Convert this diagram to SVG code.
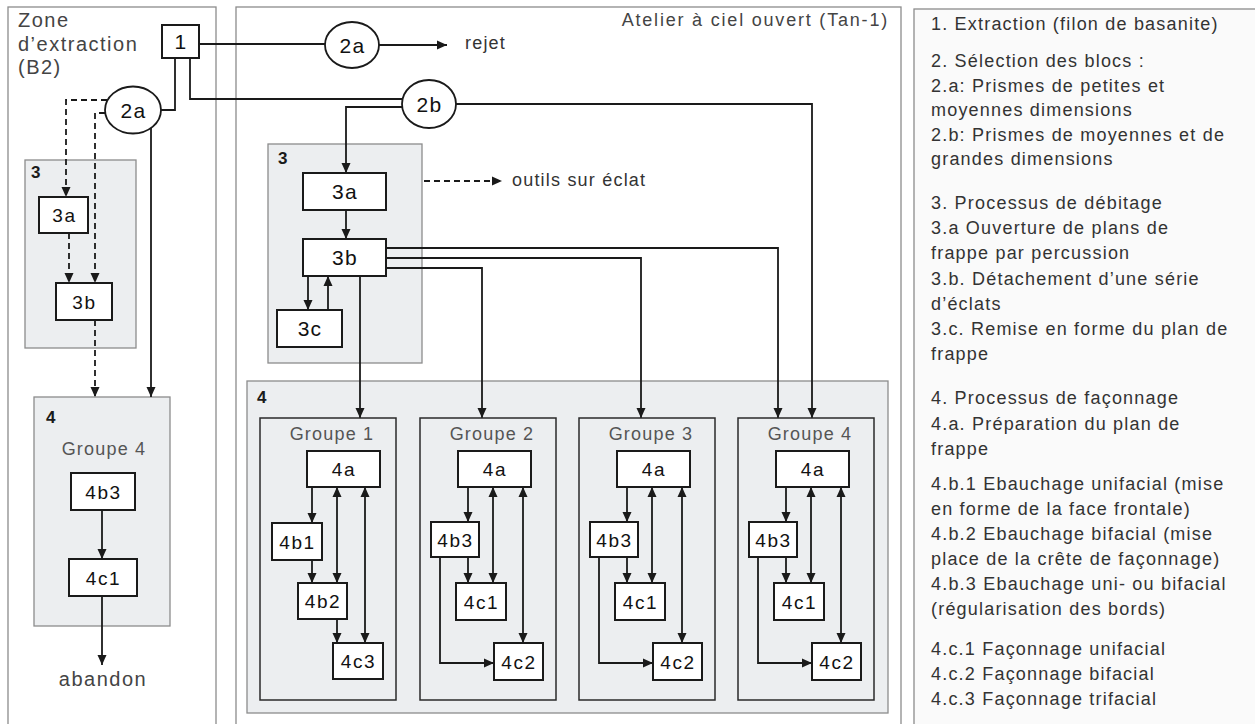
<svg xmlns="http://www.w3.org/2000/svg" width="1255" height="724" viewBox="0 0 1255 724">
<defs>
<style>
text{font-family:"Liberation Sans",Arial,sans-serif;}
.panel{fill:#ffffff;stroke:#8c8c8c;stroke-width:1.3}
.leg{fill:#fafafa;stroke:#8c8c8c;stroke-width:1.3}
.gbox{fill:#eceef0;stroke:#8c8c8c;stroke-width:1.3}
.grp{fill:none;stroke:#2a2a2a;stroke-width:1.5}
.nd{fill:#ffffff;stroke:#1a1a1a;stroke-width:2}
.el{fill:#ffffff;stroke:#1a1a1a;stroke-width:1.8}
.c{fill:none;stroke:#1a1a1a;stroke-width:1.8}
.d{stroke-dasharray:6 4}
.a{marker-end:url(#ah)}
.b{marker-start:url(#ah);marker-end:url(#ah)}
.lg{font-size:18px;letter-spacing:1.2px;fill:#333}
.lbl{font-size:20px;letter-spacing:1.5px;fill:#444}
.ttl{font-size:18px;letter-spacing:1.8px;fill:#444}
.gt{font-size:18px;letter-spacing:1.2px;fill:#555;text-anchor:middle}
.n{font-size:19px;letter-spacing:1.6px;fill:#111;text-anchor:middle}
.nb{font-size:21px;letter-spacing:1.2px;fill:#111;text-anchor:middle}
.num{font-size:17px;font-weight:bold;fill:#1a1a1a}
</style>
<marker id="ah" markerUnits="userSpaceOnUse" markerWidth="11" markerHeight="10" refX="10" refY="5" orient="auto-start-reverse" viewBox="0 0 11 10"><path d="M0,0.5 L10,5 L0,9.5 z" fill="#1a1a1a"/></marker>
</defs>

<g id="panels">
<rect class="panel" x="8" y="7" width="208" height="740"/>
<rect class="panel" x="236" y="7" width="665" height="740"/>
<rect class="leg" x="914" y="9" width="360" height="740"/>
<text class="lbl" x="18" y="27">Zone</text>
<text class="lbl" x="18" y="50.5">d’extraction</text>
<text class="lbl" x="18" y="74">(B2)</text>
<text class="ttl" x="889" y="26" text-anchor="end">Atelier à ciel ouvert (Tan-1)</text>
</g>

<g id="legend">
<text class="lg" x="931" y="30">1. Extraction (filon de basanite)</text>
<text class="lg" x="931" y="67">2. Sélection des blocs :</text>
<text class="lg" x="931" y="91.5">2.a: Prismes de petites et</text>
<text class="lg" x="931" y="116">moyennes dimensions</text>
<text class="lg" x="931" y="140.5">2.b: Prismes de moyennes et de</text>
<text class="lg" x="931" y="165">grandes dimensions</text>
<text class="lg" x="931" y="208.5">3. Processus de débitage</text>
<text class="lg" x="931" y="234">3.a Ouverture de plans de</text>
<text class="lg" x="931" y="259">frappe par percussion</text>
<text class="lg" x="931" y="284.5">3.b. Détachement d’une série</text>
<text class="lg" x="931" y="310">d’éclats</text>
<text class="lg" x="931" y="335">3.c. Remise en forme du plan de</text>
<text class="lg" x="931" y="360">frappe</text>
<text class="lg" x="931" y="404">4. Processus de façonnage</text>
<text class="lg" x="931" y="429.5">4.a. Préparation du plan de</text>
<text class="lg" x="931" y="455">frappe</text>
<text class="lg" x="931" y="490">4.b.1 Ebauchage unifacial (mise</text>
<text class="lg" x="931" y="515">en forme de la face frontale)</text>
<text class="lg" x="931" y="540">4.b.2 Ebauchage bifacial (mise</text>
<text class="lg" x="931" y="565">place de la crête de façonnage)</text>
<text class="lg" x="931" y="590">4.b.3 Ebauchage uni- ou bifacial</text>
<text class="lg" x="931" y="615">(régularisation des bords)</text>
<text class="lg" x="931" y="655">4.c.1 Façonnage unifacial</text>
<text class="lg" x="931" y="680">4.c.2 Façonnage bifacial</text>
<text class="lg" x="931" y="705">4.c.3 Façonnage trifacial</text>
</g>

<g id="L3"><rect class="gbox" x="25" y="160" width="111" height="188"/><text class="num" x="31" y="178">3</text></g>
<g id="L4"><rect class="gbox" x="34" y="397" width="136" height="229"/><text class="num" x="46" y="423">4</text><text class="gt" x="104" y="455">Groupe 4</text></g>
<g id="A3"><rect class="gbox" x="268" y="144" width="154" height="219"/><text class="num" x="278" y="164">3</text></g>
<g id="A4"><rect class="gbox" x="247" y="381" width="641" height="332"/><text class="num" x="257" y="403">4</text></g>

<g id="connectors">
<path class="c" d="M199,44 H325"/>
<path class="c a" d="M379,45 H447"/>
<path class="c" d="M175,58 V110 H161"/>
<path class="c" d="M190,58 V99 H402"/>
<path class="c a" d="M456,104 H812 V418"/>
<path class="c a" d="M402,107 H346 V173"/>
<path class="c d a" d="M107,100 H66 V197"/>
<path class="c d a" d="M105,113 H95 V283"/>
<path class="c a" d="M151,127 V397"/>
<path class="c d a" d="M69,233 V283"/>
<path class="c d a" d="M95,320 V397"/>
<path class="c a" d="M102,510 V559"/>
<path class="c a" d="M102,596 V665"/>
<path class="c a" d="M346,210 V239"/>
<path class="c a" d="M308,276 V310"/>
<path class="c a" d="M328,310 V276"/>
<path class="c d a" d="M424,181 H502"/>
<path class="c a" d="M386,248 H778 V418"/>
<path class="c a" d="M386,258 H641 V418"/>
<path class="c a" d="M386,268 H482 V418"/>
<path class="c a" d="M360,276 V418"/>
<path class="c a" d="M312,487 V523"/>
<path class="c a" d="M312,560 V583"/>
<path class="c b" d="M337,487 V583"/>
<path class="c b" d="M365,487 V643"/>
<path class="c a" d="M337,619 V643"/>
<path class="c a" d="M468,487 V522"/>
<path class="c a" d="M468,557 V583"/>
<path class="c b" d="M493,487 V583"/>
<path class="c b" d="M523,487 V643"/>
<path class="c a" d="M440,557 V663 H494"/>
<path class="c a" d="M627,487 V522"/>
<path class="c a" d="M627,557 V583"/>
<path class="c b" d="M652,487 V583"/>
<path class="c b" d="M682,487 V643"/>
<path class="c a" d="M599,557 V663 H653"/>
<path class="c a" d="M786,487 V522"/>
<path class="c a" d="M786,557 V583"/>
<path class="c b" d="M811,487 V583"/>
<path class="c b" d="M841,487 V643"/>
<path class="c a" d="M758,557 V663 H812"/>
</g>

<g id="n1"><rect class="nd" x="162" y="25" width="37" height="33"/><text class="nb" x="181" y="49">1</text></g>
<g id="n2a-top"><ellipse class="el" cx="352" cy="45" rx="27" ry="23"/><text class="nb" x="352.5" y="52.5">2a</text></g>
<text class="lg" x="465" y="49">rejet</text>
<g id="n2a-left"><ellipse class="el" cx="133" cy="110" rx="28" ry="23.5"/><text class="nb" x="133.5" y="117.5">2a</text></g>
<g id="n2b"><ellipse class="el" cx="429" cy="104" rx="27" ry="24"/><text class="nb" x="429.5" y="111.5">2b</text></g>

<g id="L3a"><rect class="nd" x="39" y="197" width="49" height="36"/><text class="n" x="64.5" y="222">3a</text></g>
<g id="L3b"><rect class="nd" x="56" y="283" width="56" height="37"/><text class="n" x="84.5" y="308.5">3b</text></g>
<g id="L4b3"><rect class="nd" x="71" y="473" width="64" height="37"/><text class="n" x="103.5" y="498.5">4b3</text></g>
<g id="L4c1"><rect class="nd" x="69" y="559" width="68" height="37"/><text class="n" x="103.5" y="584.5">4c1</text></g>
<text class="lbl" x="103" y="686" text-anchor="middle">abandon</text>

<g id="A3a"><rect class="nd" x="303" y="173" width="83" height="37"/><text class="nb" x="345" y="199">3a</text></g>
<g id="A3b"><rect class="nd" x="303" y="239" width="83" height="37"/><text class="nb" x="345" y="265">3b</text></g>
<g id="A3c"><rect class="nd" x="277" y="310" width="65" height="37"/><text class="nb" x="310" y="336">3c</text></g>
<text class="lg" x="512" y="186">outils sur éclat</text>

<g id="G1">
<rect class="grp" x="260" y="418" width="136" height="282"/>
<text class="gt" x="332" y="440">Groupe 1</text>
<rect class="nd" x="307" y="451" width="73" height="36"/><text class="n" x="344" y="476">4a</text>
<rect class="nd" x="272" y="523" width="50" height="37"/><text class="n" x="297.5" y="548.5">4b1</text>
<rect class="nd" x="298" y="583" width="49" height="36"/><text class="n" x="323" y="608">4b2</text>
<rect class="nd" x="333" y="643" width="50" height="36"/><text class="n" x="358.5" y="668">4c3</text>
</g>
<g id="G2">
<rect class="grp" x="420" y="418" width="136" height="282"/>
<text class="gt" x="492" y="440">Groupe 2</text>
<rect class="nd" x="458" y="451" width="73" height="36"/><text class="n" x="495" y="476">4a</text>
<rect class="nd" x="431" y="522" width="48" height="35"/><text class="n" x="455.5" y="546.5">4b3</text>
<rect class="nd" x="456" y="583" width="50" height="37"/><text class="n" x="481.5" y="608.5">4c1</text>
<rect class="nd" x="494" y="643" width="49" height="37"/><text class="n" x="519" y="668.5">4c2</text>
</g>
<g id="G3">
<rect class="grp" x="579" y="418" width="136" height="282"/>
<text class="gt" x="651" y="440">Groupe 3</text>
<rect class="nd" x="617" y="451" width="73" height="36"/><text class="n" x="654" y="476">4a</text>
<rect class="nd" x="590" y="522" width="48" height="35"/><text class="n" x="614.5" y="546.5">4b3</text>
<rect class="nd" x="615" y="583" width="50" height="37"/><text class="n" x="640.5" y="608.5">4c1</text>
<rect class="nd" x="653" y="643" width="49" height="37"/><text class="n" x="678" y="668.5">4c2</text>
</g>
<g id="G4">
<rect class="grp" x="738" y="418" width="136" height="282"/>
<text class="gt" x="810" y="440">Groupe 4</text>
<rect class="nd" x="776" y="451" width="73" height="36"/><text class="n" x="813" y="476">4a</text>
<rect class="nd" x="749" y="522" width="48" height="35"/><text class="n" x="773.5" y="546.5">4b3</text>
<rect class="nd" x="774" y="583" width="50" height="37"/><text class="n" x="799.5" y="608.5">4c1</text>
<rect class="nd" x="812" y="643" width="49" height="37"/><text class="n" x="837" y="668.5">4c2</text>
</g>
</svg>
